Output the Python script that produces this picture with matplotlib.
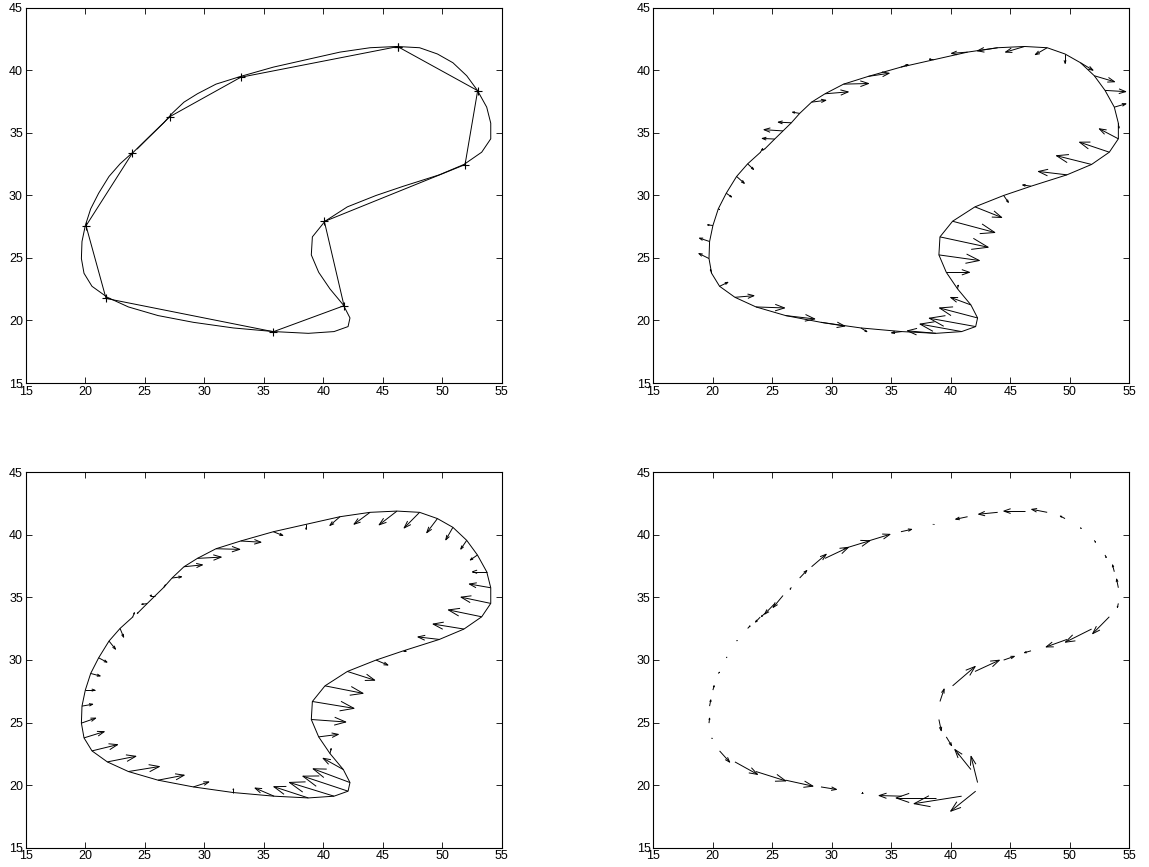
import numpy as np
import matplotlib
matplotlib.use("Agg")
import matplotlib.pyplot as plt
from matplotlib.collections import LineCollection

plt.rcParams['font.family'] = ['Liberation Sans', 'DejaVu Sans']

# control polygon (panel 1), closed
ctrl_x = [46.26, 52.98, 51.92, 40.10, 41.75, 35.81, 21.75, 20.07, 23.96, 27.13, 33.07, 46.26]
ctrl_y = [41.89, 38.37, 32.46, 27.91, 21.18, 19.10, 21.76, 27.57, 33.37, 36.30, 39.44, 41.89]

# smooth contour vertices (open polyline)
curve_x = [24.38, 25.20, 25.90, 26.60, 27.30, 28.30, 29.43, 30.99, 33.07, 35.81,
           38.56, 41.41, 43.94, 46.20, 48.10, 49.60, 50.90, 52.06, 52.96, 53.74,
           54.08, 54.08, 53.32, 51.83, 49.76, 46.74, 44.44, 42.03, 40.15, 39.09,
           39.00, 39.62, 40.57, 41.69, 42.25, 42.09, 40.91, 38.75, 35.87, 32.45,
           29.09, 26.12, 23.63, 21.86, 20.57, 19.90, 19.68, 19.73, 20.01, 20.46,
           21.13, 22.00, 22.93, 23.99]
curve_y = [33.72, 34.50, 35.15, 35.80, 36.55, 37.45, 38.12, 38.89, 39.51, 40.25,
           40.84, 41.45, 41.80, 41.90, 41.80, 41.30, 40.60, 39.56, 38.39, 37.05,
           35.77, 34.52, 33.45, 32.47, 31.64, 30.73, 29.99, 29.08, 27.93, 26.68,
           25.24, 23.85, 22.52, 21.24, 20.20, 19.51, 19.11, 18.97, 19.11, 19.40,
           19.85, 20.39, 21.08, 21.85, 22.73, 23.77, 24.95, 26.31, 27.59, 28.92,
           30.17, 31.51, 32.52, 33.43]

# vector field, panel 2
u2 = [-0.20, -1.05, -1.60, -1.10, -0.60, 1.20, 1.95, 2.10, 1.75, 0.60,
      -0.35, -1.35, -1.70, -1.60, -1.00, 0.00, 1.05, 1.70, 1.74, 0.98,
      0.05, -1.60, -2.50, -2.95, -2.40, -0.70, 0.40, 2.25, 3.55, 4.05,
      3.40, 1.95, 0.05, -1.70, -3.20, -3.90, -3.50, -2.40, -0.85, 0.50,
      2.00, 2.45, 2.40, 1.60, 0.70, -0.10, -0.85, -0.85, -0.45, 0.10,
      0.45, 0.65, 0.50, 0.20]
v2 = [-0.10, 0.05, 0.10, 0.05, 0.10, 0.15, 0.15, 0.05, 0.25, 0.20,
      0.05, -0.10, -0.25, -0.45, -0.55, -0.75, -0.60, -0.48, -0.10, 0.27,
      -0.40, 0.80, 0.80, 0.70, 0.27, 0.10, -0.55, -0.85, -0.90, -0.83,
      -0.45, 0.00, 0.30, 0.60, 0.80, 0.67, 0.60, 0.20, -0.10, -0.30,
      -0.30, -0.27, -0.08, 0.13, 0.32, 0.30, 0.40, 0.27, 0.05, -0.05,
      -0.30, -0.55, -0.45, 0.30]

# vector field, panel 3
u3 = [0.05, -0.45, -0.45, 0.15, 0.80, 1.55, 2.00, 2.00, 1.70, 0.80,
      0.00, -0.85, -1.35, -1.50, -1.30, -0.90, -0.60, -0.50, -0.60, -1.20,
      -1.80, -2.50, -2.80, -2.60, -1.80, 0.20, 1.00, 2.30, 3.20, 3.50,
      2.90, 1.65, 0.10, -1.70, -3.10, -3.80, -3.75, -2.90, -1.60, 0.00,
      1.30, 2.20, 2.60, 2.40, 2.15, 1.70, 1.20, 0.90, 0.80, 0.80,
      0.70, 0.55, 0.30, 0.15]
v3 = [0.05, -0.05, 0.00, 0.20, 0.10, 0.15, 0.10, -0.05, -0.10, -0.30,
      -0.40, -0.70, -0.95, -1.10, -1.25, -1.13, -1.00, -0.70, -0.40, 0.00,
      0.30, 0.50, 0.55, 0.40, 0.20, 0.00, -0.40, -0.70, -0.60, -0.55,
      -0.20, 0.20, 0.40, 0.90, 1.10, 1.20, 1.10, 0.90, 0.65, 0.30,
      0.40, 0.40, 0.40, 0.45, 0.50, 0.50, 0.40, 0.15, 0.00, -0.20,
      -0.35, -0.65, -0.70, 0.35]

# vector field, panel 4
u4 = [-0.30, -0.84, -0.83, -0.10, 0.60, 1.23, 1.96, 2.20, 1.82, 0.90,
      -0.05, -1.00, -1.60, -1.75, -1.30, -0.40, 0.05, 0.10, 0.10, -0.15,
      -0.15, -0.08, -1.40, -2.20, -1.75, -0.55, 0.90, 2.05, 1.90, 0.35,
      0.20, 0.45, 0.10, -1.35, -0.55, -2.10, -4.00, -3.35, -1.90, 0.15,
      1.30, 2.30, 2.50, 1.90, 0.85, 0.05, 0.05, 0.10, 0.10, 0.10,
      0.05, 0.05, 0.20, -0.40]
v4 = [-0.25, -0.83, -0.95, -0.15, 0.60, 1.00, 0.88, 0.64, 0.53, 0.19,
      0.00, -0.20, -0.15, 0.00, 0.24, 0.20, -0.10, -0.15, -0.20, 0.55,
      0.70, -0.32, -1.35, -1.05, -0.60, -0.15, 0.30, 0.90, 1.55, 1.00,
      -0.90, -0.70, -0.10, 1.60, 2.10, -1.60, -0.60, 0.00, 0.05, 0.00,
      -0.20, -0.48, -0.75, -1.00, -0.90, -0.05, 0.40, 0.50, 0.35, 0.10,
      0.05, 0.05, 0.20, -0.40]

ticks = [15, 20, 25, 30, 35, 40, 45, 50, 55]
yticks = [15, 20, 25, 30, 35, 40, 45]


def style(ax):
    ax.set_xlim(15, 55)
    ax.set_ylim(15, 45)
    ax.set_xticks(ticks)
    ax.set_yticks(yticks)
    ax.tick_params(direction='in', length=4.5, width=0.6, labelsize=9,
                   top=True, right=True, pad=2)
    for s in ax.spines.values():
        s.set_linewidth(0.8)


def quiver_lines(ax, x, y, u, v, alpha=0.33, beta=0.33):
    # MATLAB-style arrows: shaft plus open V head
    x = np.asarray(x); y = np.asarray(y)
    u = np.asarray(u); v = np.asarray(v)
    segs = []
    for xi, yi, ui, vi in zip(x, y, u, v):
        tx, ty = xi + ui, yi + vi
        segs.append([(xi, yi), (tx, ty)])
        segs.append([(tx - alpha * (ui + beta * vi), ty - alpha * (vi - beta * ui)),
                     (tx, ty),
                     (tx - alpha * (ui - beta * vi), ty - alpha * (vi + beta * ui))])
    ax.add_collection(LineCollection(segs, colors='black', linewidths=0.7))


fig = plt.figure(figsize=(11.49, 8.67), dpi=100)
W, H = 1149, 867
boxes = [(25.7, 7.7), (653.3, 7.7), (25.7, 472.3), (653.3, 472.3)]
axes = [fig.add_axes([l / W, 1 - (t + 375.3) / H, 476 / W, 375.3 / H]) for l, t in boxes]

ax1, ax2, ax3, ax4 = axes
ax1.plot(curve_x, curve_y, color='black', lw=0.7)
ax1.plot(ctrl_x, ctrl_y, color='black', lw=0.7, marker='+', ms=6, mew=0.8)

ax2.plot(curve_x, curve_y, color='black', lw=0.7)
quiver_lines(ax2, curve_x, curve_y, u2, v2)

ax3.plot(curve_x, curve_y, color='black', lw=0.7)
quiver_lines(ax3, curve_x, curve_y, u3, v3)

quiver_lines(ax4, curve_x, curve_y, u4, v4)

for ax in axes:
    style(ax)

fig.savefig('out.png', dpi=100)
